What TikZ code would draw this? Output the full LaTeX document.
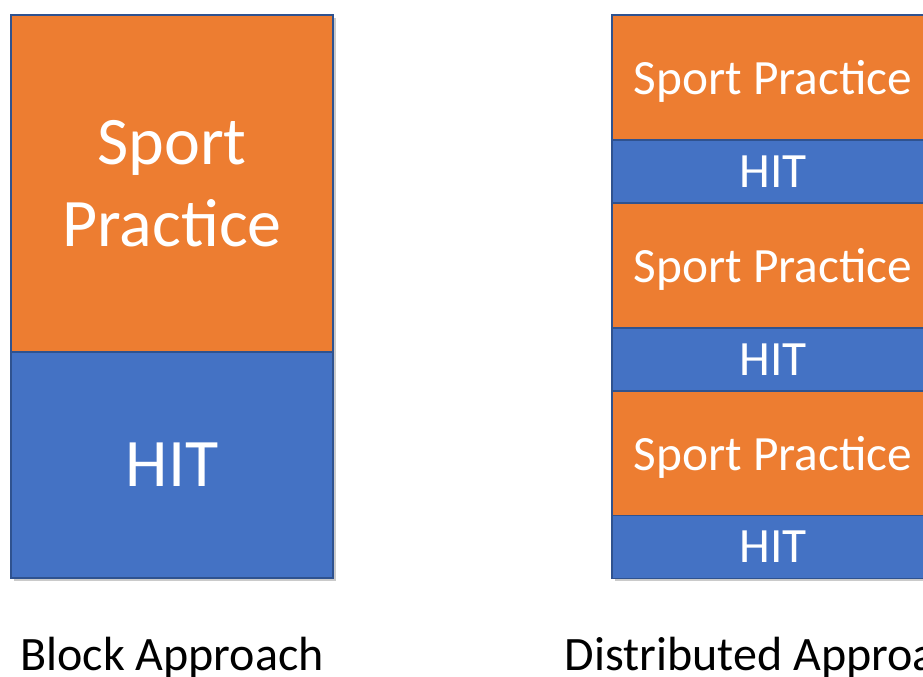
\documentclass[tikz,border=0pt]{standalone}
\usepackage{fontspec}
\setmainfont{Carlito}
\usepackage{tikz}
\usetikzlibrary{positioning,shadows}
\usepackage{xcolor}
\definecolor{hitOrange}{HTML}{ED7D31}
\definecolor{hitBlue}{HTML}{4472C4}
\definecolor{hitEdge}{HTML}{2F528F}
\tikzset{
    column/.style={
        fill=white,inner sep=0pt,minimum width=241.5pt,minimum height=422.25pt,
        drop shadow={shadow xshift=2.5pt,shadow yshift=-2.5pt,opacity=.35,fill=black!60}
    },
    seg/.style={
        draw=hitEdge,line width=.8pt,fill=#1,inner sep=0pt,
        minimum width=241.5pt,text=white,align=center
    },
    seg/.default=hitOrange,
    bigtext/.style={font=\fontsize{51}{61.5}\selectfont},
    smalltext/.style={font=\fontsize{37}{44}\selectfont,text depth=0pt},
    caption/.style={font=\fontsize{36}{43}\selectfont,anchor=base,inner sep=0pt}
}

\begin{document}
\begin{tikzpicture}[x=0.75pt,y=-0.75pt]

\useasboundingbox (0,0) rectangle (923,676);
\clip (0,0) rectangle (923,676);

% block approach
\node[column] (blockcol) at (172,296.5) {};
\node[seg=hitOrange,bigtext,minimum height=252.75pt]
(blocksport) at (172,183.5) {Sport\\Practice};
\node[seg=hitBlue,bigtext,minimum height=169.5pt]
(blockhit) at (172,465) {HIT};

\node[caption] (blocklabel) at (172,670) {Block Approach};

% distributed approach
\node[column] (distcol) at (773,296.5) {};
\node[seg=hitOrange,smalltext,minimum height=93.75pt]
(distsportA) at (773,77.5) {Sport Practice};
\node[seg=hitBlue,smalltext,minimum height=47.25pt]
(disthitA) at (773,171.5) {HIT};
\node[seg=hitOrange,smalltext,minimum height=93.75pt]
(distsportB) at (773,265.5) {Sport Practice};
\node[seg=hitBlue,smalltext,minimum height=47.25pt]
(disthitB) at (773,359.5) {HIT};
\node[seg=hitOrange,smalltext,minimum height=93.75pt]
(distsportC) at (773,453.5) {Sport Practice};
\node[seg=hitBlue,smalltext,minimum height=47.25pt]
(disthitC) at (773,547) {HIT};

\node[caption] (distlabel) at (773,670) {Distributed Approach};

\end{tikzpicture}
\end{document}
